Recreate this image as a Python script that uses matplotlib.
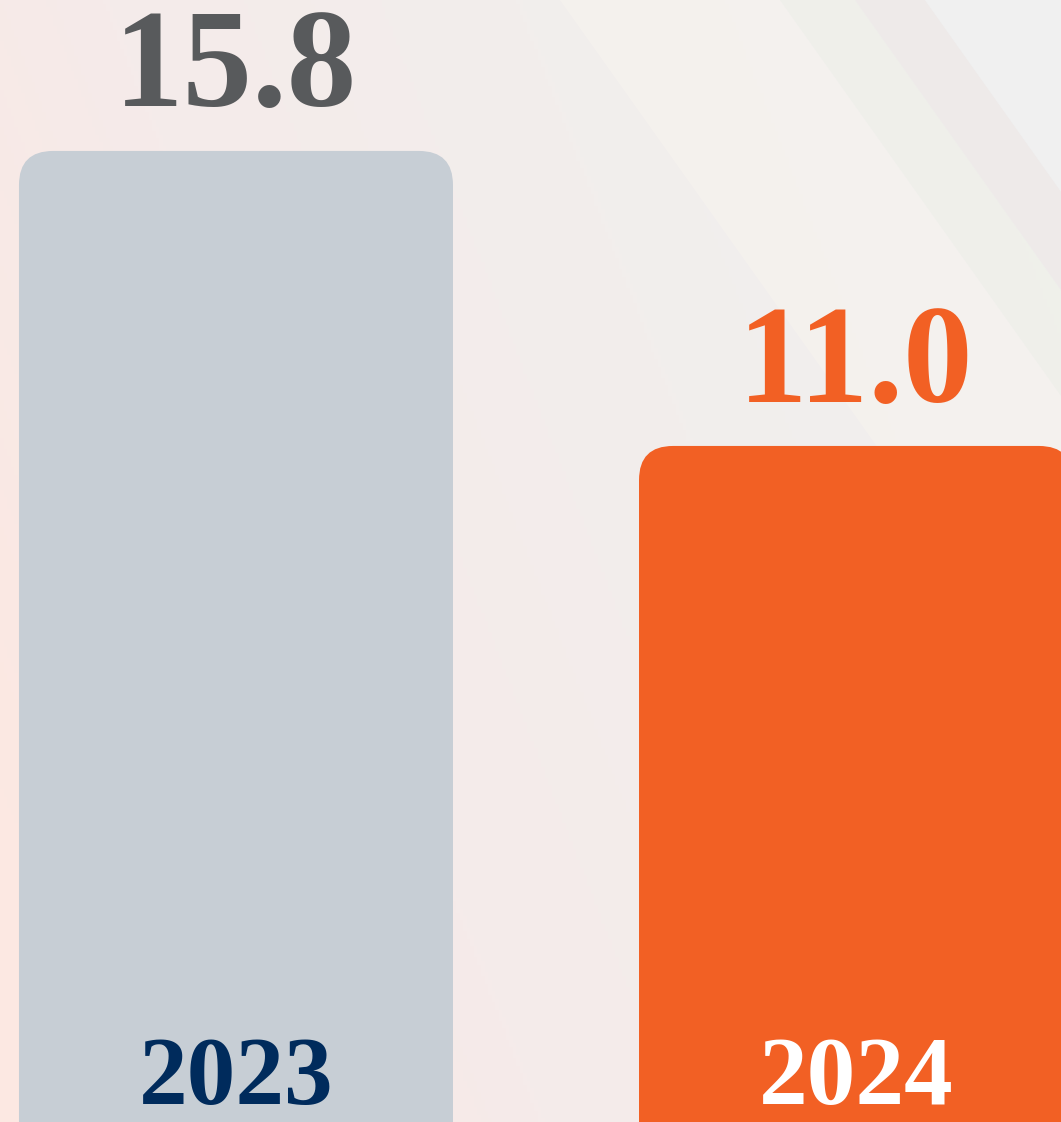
import matplotlib.pyplot as plt
import numpy as np
from matplotlib.patches import FancyBboxPatch, Polygon
from matplotlib.colors import LinearSegmentedColormap

years = ["2023", "2024"]
values = [15.8, 11.0]
bar_colors = ["#c7ced5", "#f26024"]
value_colors = ["#585a5c", "#f26024"]
year_colors = ["#002b5c", "#ffffff"]

fig = plt.figure(figsize=(10.61, 11.22), dpi=100)

# background: soft pink -> light grey gradient with faint diagonal bands
bg = fig.add_axes([0, 0, 1, 1])
bg.set_xlim(0, 1061)
bg.set_ylim(1122, 0)
bg.axis("off")
cmap = LinearSegmentedColormap.from_list("bg", ["#fce8e2", "#f5ebea", "#f2eeec", "#f0f0f0"])
gx, gy = np.meshgrid(np.linspace(0, 1, 300), np.linspace(0, 1, 300))
grad = np.clip(gx * 0.85 - gy * 0.35 + 0.25, 0, 1)
bg.imshow(grad, cmap=cmap, extent=[0, 1061, 1122, 0], aspect="auto", zorder=0)
k = 0.71
bands = [(560, 780, "#f6f2ee", 0.8), (780, 855, "#eff0ea", 0.9), (855, 925, "#eeeae9", 0.9), (925, 1400, "#f0f0f0", 1.0)]
for x0, x1, c, a in bands:
    bg.add_patch(Polygon([(x0, 0), (x1, 0), (x1 + k * 1122, 1122), (x0 + k * 1122, 1122)],
                         closed=True, facecolor=c, edgecolor="none", alpha=a, zorder=1))

ax = fig.add_axes([0, 0, 1, 1])
ax.patch.set_alpha(0)
ax.set_xlim(-0.3806, 1.3306)
ax.set_ylim(0, 18.256)
ax.axis("off")

x = np.arange(len(years))
bars = ax.bar(x, values, width=0.7, color=bar_colors)

# rounded tops: redraw each bar as a rounded box whose bottom sits below the axis
r = 0.055
asp = (18.256 / 1122) / (1.7112 / 1061)
for b, c in zip(bars, bar_colors):
    b.set_visible(False)
    ax.add_patch(FancyBboxPatch((b.get_x(), b.get_y() - 2), b.get_width(), b.get_height() + 2,
                                boxstyle=f"round,pad=0,rounding_size={r}",
                                mutation_aspect=asp, facecolor=c, edgecolor="none"))

for xi, v, vc, yr, yc in zip(x, values, value_colors, years, year_colors):
    ax.annotate(f"{v:.1f}", (xi, v), xytext=(0, 32), textcoords="offset points",
                ha="center", va="baseline", fontsize=100, fontweight="bold",
                family="Liberation Serif", color=vc)
    ax.annotate(yr, (xi, 0), xytext=(0, 13), textcoords="offset points",
                ha="center", va="baseline", fontsize=70, fontweight="bold",
                family="Liberation Serif", color=yc)

fig.savefig("out.png", dpi=100)
